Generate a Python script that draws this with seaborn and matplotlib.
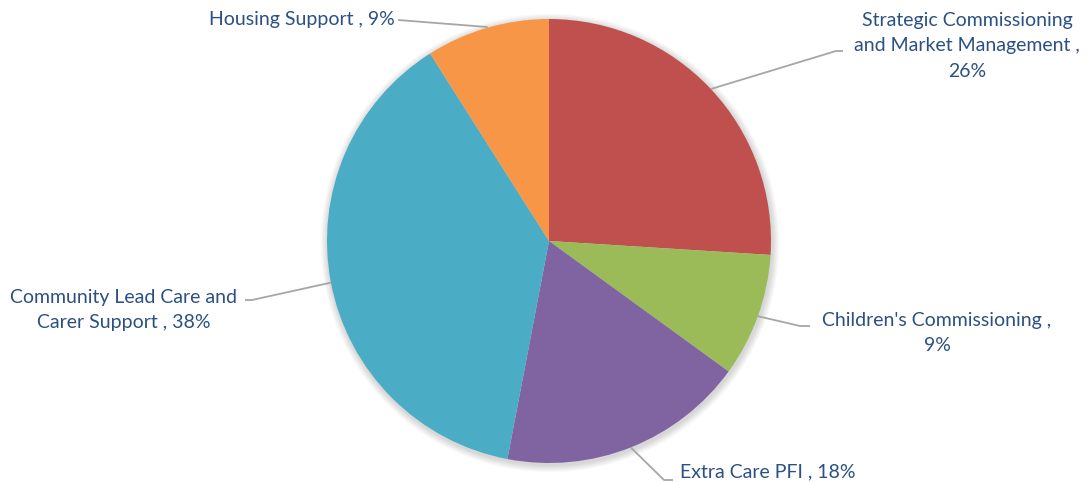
import numpy as np
import matplotlib
matplotlib.use("Agg")
import matplotlib.pyplot as plt
from matplotlib.patches import Circle
import seaborn as sns

# Budget split by service area
labels = [
    "Strategic Commissioning\nand Market Management ,\n26%",
    "Children's Commissioning ,\n9%",
    "Extra Care PFI , 18%",
    "Community Lead Care and\nCarer Support , 38%",
    "Housing Support , 9%",
]
shares = [26, 9, 18, 38, 9]
colors = ["#C0504D", "#9BBB59", "#8064A2", "#4BACC6", "#F79646"]

sns.set_theme(style="white")
plt.rcParams["font.family"] = ["Lato", "DejaVu Sans"]

W, H = 1090, 483
fig = plt.figure(figsize=(W / 100, H / 100), dpi=100)
ax = fig.add_axes([0, 0, 1, 1])

cx, cy, r = 549, 242, 222

# soft drop shadow around the pie
for i in range(8):
    ax.add_patch(Circle((cx + 1, cy - 2), r + 1 + i * 0.9, color="black",
                        alpha=0.018, lw=0, zorder=0))

wedges, _ = ax.pie(shares, colors=colors, startangle=90, counterclock=False,
                   center=(cx, cy), radius=r, frame=True,
                   wedgeprops=dict(linewidth=0), normalize=True)
ax.set_xlim(0, W)
ax.set_ylim(0, H)
ax.set_aspect("equal")
ax.axis("off")

txt_color = "#2B5083"
fs = 14
# (elbow point, end of horizontal run, text anchor, alignment)
layout = [
    ((836, 483 - 51), (843, 483 - 51), (967, 483 - 46), "center"),
    ((800, 483 - 326), (810, 483 - 326), (937, 483 - 333), "center"),
    ((664, 483 - 480), (673, 483 - 480), (680, 483 - 472), "left"),
    ((252, 483 - 300), (245, 483 - 300), (124, 483 - 310), "center"),
    ((487, 483 - 27), (398, 483 - 20), (395, 483 - 19), "right"),
]

for w, lab, (elbow, end, tpos, ha) in zip(wedges, labels, layout):
    mid = np.deg2rad((w.theta1 + w.theta2) / 2)
    ex, ey = cx + r * np.cos(mid), cy + r * np.sin(mid)
    ax.plot([ex, elbow[0], end[0]], [ey, elbow[1], end[1]],
            color="#A6A6A6", lw=1.3, zorder=1, solid_capstyle="butt")
    ax.text(tpos[0], tpos[1], lab, ha=ha, va="center", fontsize=fs,
            color=txt_color, linespacing=1.6, multialignment="center")

fig.savefig("out.png", dpi=100, facecolor="white")
